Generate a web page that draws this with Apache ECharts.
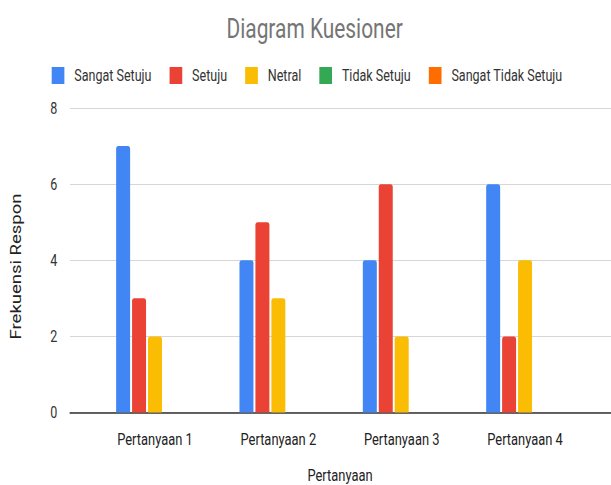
<!DOCTYPE html>
<html>
<head>
<meta charset="utf-8">
<script src="https://cdn.jsdelivr.net/npm/echarts@6/dist/echarts.min.js"></script>
<style>
  html, body { margin: 0; padding: 0; overflow: hidden; background: #fff; width: 611px; height: 485px; }
  #chart { width: 804px; height: 485px; transform: scaleX(0.76); transform-origin: 0 0; }
</style>
</head>
<body>
<div id="chart"></div>
<script>
const titleText = 'Diagram Kuesioner';
const categories = ['Pertanyaan 1', 'Pertanyaan 2', 'Pertanyaan 3', 'Pertanyaan 4'];
const seriesNames = ['Sangat Setuju', 'Setuju', 'Netral', 'Tidak Setuju', 'Sangat Tidak Setuju'];
const sangatSetuju = [7, 4, 4, 6];
const setuju = [3, 5, 6, 2];
const netral = [2, 3, 2, 4];
const tidakSetuju = [0, 0, 0, 0];
const sangatTidakSetuju = [0, 0, 0, 0];
const colors = ['#4285F4', '#EA4335', '#FBBC04', '#34A853', '#FF6D01'];
const yMin = 0, yMax = 8, yStep = 2;
const xAxisName = 'Pertanyaan';
const yAxisName = 'Frekuensi Respon';

const seriesData = [sangatSetuju, setuju, netral, tidakSetuju, sangatTidakSetuju];
const font = 'Roboto, "Liberation Sans", Arial, sans-serif';

const chart = echarts.init(document.getElementById('chart'), null, { renderer: 'svg' });
chart.setOption({
  animation: false,
  backgroundColor: '#ffffff',
  color: colors,
  title: {
    text: titleText,
    left: 409,
    top: 9,
    textAlign: 'center',
    textStyle: { fontFamily: font, fontSize: 27.5, fontWeight: 'normal', color: '#757575' }
  },
  legend: {
    left: 63,
    top: 62,
    itemWidth: 16.7,
    itemHeight: 17,
    itemGap: 23.7,
    icon: 'rect',
    textStyle: { fontFamily: font, fontSize: 16.5, color: '#333', padding: [0, 0, 0, 8] }
  },
  grid: [
    { left: 92.1, right: 0, top: 108, bottom: 72.5, outerBoundsMode: 'none', containLabel: false },
    { left: 122.8, right: 32, top: 108, bottom: 72.5, outerBoundsMode: 'none', containLabel: false }
  ],
  xAxis: [
    {
      gridIndex: 0, type: 'value', min: 0, max: 1,
      axisLine: { show: true, lineStyle: { color: '#333', width: 1.5 } },
      axisTick: { show: false }, axisLabel: { show: false }, splitLine: { show: false }
    },
    {
      gridIndex: 1, type: 'category', data: categories,
      axisLine: { show: false }, axisTick: { show: false },
      axisLabel: { margin: 18, fontFamily: font, fontSize: 17, color: '#222' },
      name: xAxisName, nameLocation: 'middle', nameGap: 54,
      nameTextStyle: { fontFamily: font, fontSize: 17, color: '#222' }
    }
  ],
  yAxis: [
    {
      gridIndex: 0, type: 'value', min: yMin, max: yMax, interval: yStep,
      axisLine: { show: false }, axisTick: { show: false },
      axisLabel: { margin: 16.7, fontFamily: font, fontSize: 16.5, color: '#333', padding: [0, 0, 6, 0] },
      splitLine: { lineStyle: { color: '#d0d0d0', width: 1 } }
    },
    {
      gridIndex: 1, type: 'value', min: yMin, max: yMax, interval: yStep, show: false,
      splitLine: { show: false }
    }
  ],
  graphic: [
    {
      type: 'text', x: 21, y: 266.5, rotation: Math.PI / 2,
      style: { text: yAxisName, fontFamily: font, fontSize: 18.5, fill: '#222', align: 'center', verticalAlign: 'middle' }
    }
  ],
  series: seriesNames.map((name, i) => ({
    name: name,
    type: 'bar',
    xAxisIndex: 1,
    yAxisIndex: 1,
    data: seriesData[i],
    barWidth: 18.4,
    barGap: '14%',
    itemStyle: { color: colors[i], borderRadius: [3, 3, 0, 0] }
  }))
});
</script>
</body>
</html>
